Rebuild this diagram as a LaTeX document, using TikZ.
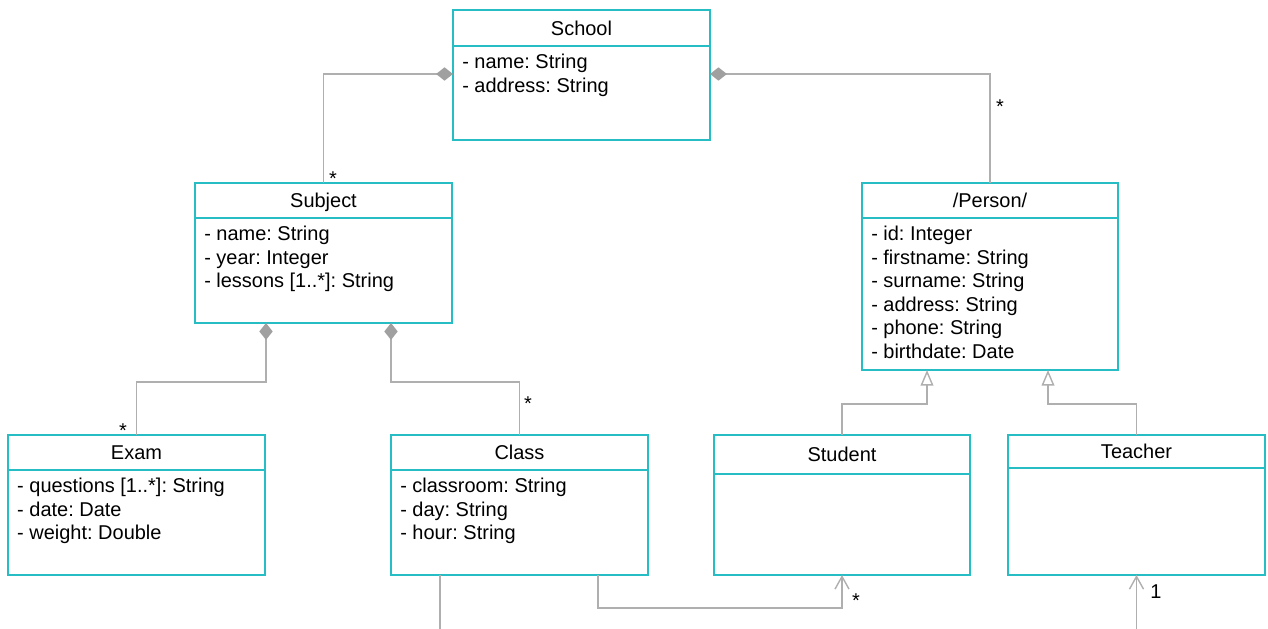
\documentclass[tikz,border=0pt]{standalone}
\usepackage{fontspec}
\setmainfont{Liberation Sans}
\usepackage{tikz}
\usetikzlibrary{positioning,calc,arrows.meta}
\definecolor{umlteal}{RGB}{38, 190, 196}
\definecolor{linegray}{RGB}{175, 175, 175}
\definecolor{tipgray}{RGB}{160, 160, 160}
\frenchspacing

\begin{document}
\begin{tikzpicture}[x=0.025cm, y=-0.025cm, >=Stealth,
			classHead/.style={draw=umlteal, rectangle, line width=1.2pt, minimum width=6.425cm, minimum height=0.875cm, inner sep=0pt, outer sep=0pt, text depth=0pt, font=\fontsize{14.2}{16.7}\selectfont},
			classBody/.style={draw=umlteal, rectangle, line width=1.2pt, minimum width=6.425cm, inner sep=0pt, outer sep=0pt},
			attrText/.style={draw=none, anchor=north west, inner sep=0pt, align=left, font=\fontsize{14.2}{16.7}\selectfont},
			mult/.style={draw=none, inner sep=0pt, font=\fontsize{14.2}{16.7}\selectfont},
			compose/.style={line width=1pt, color=linegray, {Diamond[length=12pt, width=9.5pt, color=tipgray, fill=tipgray]}-},
			inherit/.style={line width=1pt, color=linegray, -{Triangle[open, length=11pt, width=9pt, fill=white]}},
			navigate/.style={line width=1pt, color=linegray, -{Straight Barb[length=9pt, width=10pt]}},
			assoc/.style={line width=1pt, color=linegray, -}
			]
			\useasboundingbox (0,0) rectangle (1268,629);
			
			% classes
			\node[classHead, minimum height=0.9cm](schoolhd) at (581.5,28) {School};
			\node[classBody, minimum height=2.35cm](schoolbd) [below = 0pt of schoolhd] {};
			\node[attrText](schoolat) at ($(schoolbd.north west)+(9,8)$) {- name: String\\- address: String};
			
			\node[classHead](subjecthd) at (323.5,200.5) {Subject};
			\node[classBody, minimum height=2.625cm](subjectbd) [below = 0pt of subjecthd] {};
			\node[attrText](subjectat) at ($(subjectbd.north west)+(9,8)$) {- name: String\\- year: Integer\\- lessons [1..*]: String};
			
			\node[classHead, minimum width=6.4cm](personhd) at (990,200.5) {/Person/};
			\node[classBody, minimum width=6.4cm, minimum height=3.8cm](personbd) [below = 0pt of personhd] {};
			\node[attrText](personat) at ($(personbd.north west)+(9,8)$) {- id: Integer\\- firstname: String\\- surname: String\\- address: String\\- phone: String\\- birthdate: Date};
			
			\node[classHead](examhd) at (136.5,452.5) {Exam};
			\node[classBody, minimum height=2.625cm](exambd) [below = 0pt of examhd] {};
			\node[attrText](examat) at ($(exambd.north west)+(9,8)$) {- questions [1..*]: String\\- date: Date\\- weight: Double};
			
			\node[classHead](classhd) at (519.5,452.5) {Class};
			\node[classBody, minimum height=2.625cm](classbd) [below = 0pt of classhd] {};
			\node[attrText](classat) at ($(classbd.north west)+(9,8)$) {- classroom: String\\- day: String\\- hour: String};
			
			\node[classHead, minimum width=6.4cm, minimum height=0.975cm](studenthd) at (842,454.5) {Student};
			\node[classBody, minimum width=6.4cm, minimum height=2.525cm](studentbd) [below = 0pt of studenthd] {};
			
			\node[classHead, minimum height=0.825cm](teacherhd) at (1136.5,451.5) {Teacher};
			\node[classBody, minimum height=2.675cm](teacherbd) [below = 0pt of teacherhd] {};
			
			% loose ends at the bottom edge
			\coordinate (classout) at (440,629);
			\coordinate (teacherin) at (1136.5,629);
			
			% connectors
			\draw [compose] ($(schoolbd.north west)+(0,28)$) -| (subjecthd.north);
			\draw [compose] ($(schoolbd.north east)+(0,28)$) -| (personhd.north);
			\draw [compose] ($(subjectbd.south)+(-57.5,0)$) -- ++(0,59) -| (examhd.north);
			\draw [compose] ($(subjectbd.south)+(67.5,0)$) -- ++(0,59) -| (classhd.north);
			
			\draw [inherit] (studenthd.north) -- ++(0,-31) -| ($(personbd.south)+(-63,0)$);
			\draw [inherit] (teacherhd.north) -- ++(0,-31) -| ($(personbd.south)+(58,0)$);
			
			\draw [navigate] ($(classbd.south)+(78.5,0)$) -- ++(0,33) -| (studentbd.south);
			\draw [assoc] (classbd.south -| classout) -- (classout);
			\draw [navigate] (teacherin) -- (teacherbd.south);
			
			% multiplicities
			\node[mult](subjectmult) at ($(subjecthd.north)+(9.5,-4)$) {*};
			\node[mult](personmult) at ($(personhd.north)+(10,-76)$) {*};
			\node[mult](exammult) at ($(examhd.north)+(-13.5,-4)$) {*};
			\node[mult](classmult) at ($(classhd.north)+(8.5,-31)$) {*};
			\node[mult](studentmult) at ($(studentbd.south)+(14,26)$) {*};
			\node[mult](teachermult) at ($(teacherbd.south)+(19.5,17)$) {1};
			
\end{tikzpicture}
\end{document}
